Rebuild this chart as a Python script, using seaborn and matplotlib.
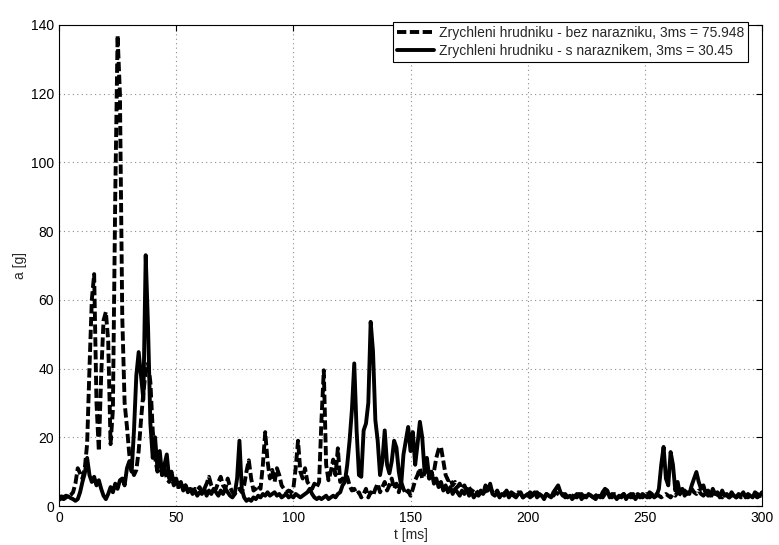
# Chest acceleration with / without bumper
import numpy as np
import pandas as pd
import matplotlib
matplotlib.use('Agg')
import matplotlib.pyplot as plt
import seaborn as sns

# time axis in ms (1 ms sampling)
t_ms = np.arange(0, 301, 1)

# acceleration [g] without bumper (dashed)
a_bez = [
    2.5, 2.8, 2.6, 3.0, 2.7, 3.2, 4.0, 6.5, 11.0, 9.5,
    8.0, 11.0, 18.0, 40.0, 60.0, 67.5, 30.0, 16.0, 38.0, 54.0,
    56.5, 48.0, 18.0, 28.0, 90.0, 137.0, 120.0, 55.0, 30.0, 23.0,
    15.0, 11.0, 9.0, 10.5, 16.0, 25.0, 33.0, 39.0, 41.5, 36.0,
    22.0, 14.0, 10.0, 13.0, 9.0, 11.0, 8.0, 7.0, 8.5, 6.0,
    7.0, 5.5, 6.5, 5.0, 6.0, 4.5, 5.5, 4.0, 5.0, 4.5,
    5.5, 4.0, 5.0, 6.5, 8.5, 6.0, 4.5, 5.0, 7.0, 8.5,
    6.0, 5.0, 8.0, 5.5, 4.0, 3.5, 4.5, 5.0, 4.0, 6.0,
    10.0, 13.3, 8.0, 4.5, 5.0, 6.0, 5.0, 12.0, 21.5, 13.0,
    8.0, 10.5, 7.0, 11.0, 9.0, 6.0, 5.0, 4.0, 4.5, 4.0,
    5.0, 11.0, 19.0, 10.0, 8.0, 11.0, 7.0, 6.0, 5.0, 6.5,
    5.5, 7.0, 25.0, 39.5, 12.0, 7.5, 10.0, 13.5, 9.0, 16.8,
    7.0, 8.0, 7.5, 8.5, 6.0, 4.5, 5.0, 3.5, 4.0, 2.5,
    3.5, 5.0, 2.5, 4.0, 3.0, 5.0, 6.5, 4.0, 5.5, 7.0,
    4.5, 6.0, 8.0, 5.0, 6.5, 4.0, 7.0, 5.0, 3.5, 4.5,
    3.0, 5.0, 7.5, 9.0, 11.0, 8.0, 9.5, 10.5, 8.0, 9.0,
    10.0, 14.0, 16.5, 17.2, 13.0, 9.0, 7.5, 8.0, 6.0, 7.0,
    5.5, 6.5, 5.0, 6.0, 4.5, 5.5, 4.0, 5.0, 4.5, 3.5,
    4.5, 3.5, 5.0, 4.0, 5.5, 4.0, 3.5, 4.5, 3.0, 4.0,
    3.5, 4.5, 3.0, 4.0, 3.5, 3.0, 4.0, 3.5, 2.5, 3.5,
    3.0, 4.0, 3.5, 3.0, 4.0, 3.0, 3.5, 2.5, 3.5, 3.0,
    3.5, 3.0, 4.0, 3.5, 3.0, 3.5, 2.5, 3.0, 3.5, 3.0,
    2.5, 3.5, 3.0, 3.5, 2.5, 3.0, 3.5, 3.0, 2.5, 3.0,
    3.5, 3.0, 2.5, 3.5, 4.0, 3.0, 2.5, 3.5, 3.0, 2.5,
    3.0, 3.5, 2.5, 3.0, 3.5, 2.5, 3.0, 3.5, 3.0, 2.5,
    3.0, 3.5, 2.5, 3.0, 2.5, 3.5, 3.0, 2.5, 3.0, 3.5,
    3.0, 2.5, 3.5, 3.0, 4.0, 3.5, 3.0, 4.5, 3.5, 4.0,
    5.0, 4.0, 3.5, 4.5, 3.5, 3.0, 4.0, 3.0, 3.5, 3.0,
    2.5, 3.5, 3.0, 2.5, 3.5, 3.0, 2.5, 3.0, 3.5, 2.5,
    3.0, 2.5, 3.5, 3.0, 2.5, 3.0, 3.5, 3.0, 2.5, 3.0,
    3.0,
]

# acceleration [g] with bumper (solid)
a_s = [
    1.8, 2.2, 2.0, 2.5, 2.8, 2.3, 2.0, 1.5, 2.0, 4.0,
    7.0, 9.5, 14.0, 9.0, 7.0, 8.5, 6.0, 7.5, 5.0, 3.0,
    2.0, 3.5, 5.5, 4.0, 6.5, 5.0, 7.5, 8.0, 6.0, 11.0,
    13.0, 10.0, 22.0, 38.0, 44.8, 38.0, 31.0, 73.0, 52.0, 24.0,
    14.0, 20.0, 11.0, 16.0, 9.0, 12.0, 15.0, 8.0, 10.0, 6.5,
    8.0, 5.5, 7.0, 4.5, 6.0, 4.0, 5.0, 3.5, 4.5, 3.0,
    4.0, 3.5, 5.0, 3.0, 4.5, 3.5, 5.0, 4.0, 3.0, 4.5,
    3.5, 5.0, 4.0, 3.0, 2.5, 3.5, 8.0, 19.0, 5.0, 2.5,
    1.5, 2.0, 1.5, 2.5, 2.0, 3.0, 2.5, 3.5, 3.0, 4.0,
    3.0, 3.5, 4.0, 3.0, 3.5, 2.5, 3.0, 3.5, 2.5, 3.0,
    2.5, 3.5, 3.0, 2.5, 3.0, 3.5, 4.0, 5.0, 3.5, 2.5,
    2.0, 2.5, 2.0, 2.5, 3.0, 2.0, 2.5, 3.0, 2.5, 3.5,
    4.0, 6.0, 7.0, 12.0, 19.0, 28.0, 41.5, 22.0, 9.0, 8.5,
    22.0, 24.0, 30.0, 53.6, 45.0, 25.0, 19.0, 9.0, 13.0, 22.0,
    12.0, 9.5, 13.0, 19.0, 17.0, 10.0, 6.0, 15.0, 19.0, 23.0,
    16.0, 21.5, 12.0, 18.0, 24.5, 20.0, 10.0, 14.0, 8.0, 10.0,
    6.5, 8.0, 5.5, 7.0, 4.5, 6.0, 4.0, 5.5, 3.5, 5.0,
    4.0, 3.0, 4.5, 3.5, 5.0, 3.0, 4.0, 2.5, 3.5, 3.0,
    4.0, 3.5, 6.0, 4.5, 6.5, 3.5, 3.0, 4.0, 2.5, 3.5,
    3.0, 4.0, 2.5, 3.5, 3.0, 2.5, 3.5, 4.0, 2.5, 3.0,
    3.5, 2.5, 3.0, 4.0, 2.5, 3.5, 3.0, 2.0, 3.5, 3.0,
    2.5, 4.0, 5.0, 6.0, 4.0, 3.0, 3.5, 2.5, 3.0, 2.0,
    3.0, 2.5, 3.5, 2.0, 3.0, 2.5, 3.5, 3.0, 2.5, 2.0,
    3.0, 2.5, 4.0, 5.0, 4.5, 2.5, 3.5, 3.0, 2.0, 3.0,
    2.5, 3.5, 2.0, 3.0, 2.5, 3.5, 2.0, 3.0, 2.5, 3.5,
    3.0, 2.5, 4.0, 3.5, 2.5, 3.0, 5.0, 12.0, 17.2, 8.0,
    6.0, 15.7, 12.0, 4.5, 7.0, 3.5, 5.0, 3.0, 4.0, 3.5,
    6.0, 8.0, 9.9, 7.0, 5.0, 6.0, 3.5, 4.5, 3.0, 5.0,
    3.5, 4.0, 2.5, 4.5, 3.0, 3.5, 2.5, 4.0, 3.0, 2.5,
    3.5, 3.0, 4.0, 2.5, 3.5, 3.0, 2.5, 4.0, 3.5, 3.0,
    4.0,
]

label_bez = 'Zrychleni hrudniku - bez narazniku, 3ms = 75.948'
label_s = 'Zrychleni hrudniku - s naraznikem, 3ms = 30.45'

x_ticks = [0, 50, 100, 150, 200, 250, 300]
y_ticks = [0, 20, 40, 60, 80, 100, 120, 140]

df = pd.concat([
    pd.DataFrame({'t': t_ms, 'a': a_bez, 'serie': label_bez}),
    pd.DataFrame({'t': t_ms, 'a': a_s, 'serie': label_s}),
])

sns.set_style('white')
plt.rcParams['font.family'] = ['Liberation Sans', 'DejaVu Sans']

fig = plt.figure(figsize=(7.79, 5.45), dpi=100)
ax = fig.add_axes([59 / 779, 39 / 545, 703 / 779, 481 / 545])

sns.lineplot(data=df, x='t', y='a', hue='serie', style='serie',
             palette={label_bez: 'black', label_s: 'black'},
             dashes={label_bez: (2.4, 0.9), label_s: ''},
             linewidth=2.8, ax=ax)

ax.set_xlim(0, 300)
ax.set_ylim(0, 140)
ax.set_xticks(x_ticks)
ax.set_yticks(y_ticks)
ax.grid(True, linestyle=(0, (1, 3)), color='0.55', linewidth=0.8)
ax.tick_params(direction='in', length=4, top=True, right=True,
               labelsize=10, colors='black')
for s in ax.spines.values():
    s.set_color('black')
    s.set_linewidth(0.8)
ax.set_xlabel('t [ms]', fontsize=10, labelpad=2)
ax.set_ylabel('a [g]', fontsize=10, labelpad=3)

leg = ax.legend(loc='upper right', bbox_to_anchor=(748 / 779, 1 - 22 / 545),
                bbox_transform=fig.transFigure, fontsize=10,
                handlelength=2.7, frameon=True, fancybox=False,
                framealpha=1, borderpad=0.3, labelspacing=0.25,
                handletextpad=0.3, borderaxespad=0)
leg.get_frame().set_edgecolor('black')
leg.get_frame().set_linewidth(0.8)

fig.savefig('out.png', dpi=100)
